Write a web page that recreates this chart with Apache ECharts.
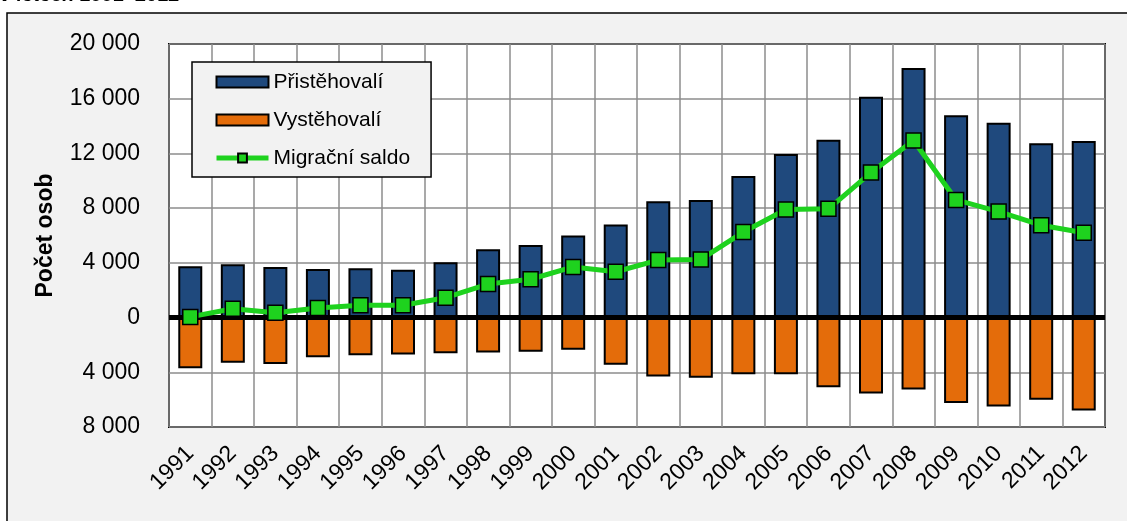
<!DOCTYPE html>
<html>
<head>
<meta charset="utf-8">
<script src="https://cdn.jsdelivr.net/npm/echarts@6/dist/echarts.min.js"></script>
<style>
html,body{margin:0;padding:0;background:#ffffff;}
#c{width:1127px;height:521px;}
</style>
</head>
<body>
<div id="c"></div>
<script>
var years = ['1991','1992','1993','1994','1995','1996','1997','1998','1999','2000','2001','2002','2003','2004','2005','2006','2007','2008','2009','2010','2011','2012'];
var immigrants = [3750, 3900, 3700, 3550, 3600, 3500, 4050, 5000, 5300, 6000, 6800, 8500, 8600, 10350, 11950, 13000, 16150, 18250, 14800, 14250, 12750, 12900];
var emigrants = [-3700, -3300, -3400, -2900, -2750, -2700, -2600, -2550, -2500, -2350, -3450, -4300, -4400, -4150, -4150, -5100, -5550, -5250, -6250, -6500, -6000, -6800];
var saldo = [50, 650, 350, 700, 900, 900, 1450, 2450, 2800, 3700, 3350, 4200, 4250, 6250, 7900, 7950, 10600, 12950, 8600, 7750, 6750, 6200];
var seriesNames = ['Přistěhovalí', 'Vystěhovalí', 'Migrační saldo'];
var yName = 'Počet osob';
var titleText = 'v letech 1991–2012';

var FONT = 'Liberation Sans, Arial, sans-serif';
function fmt(v){
  return String(Math.abs(v)).replace(/\B(?=(\d{3})+(?!\d))/g, ' ');
}

var chart = echarts.init(document.getElementById('c'), null, {renderer:'canvas'});
chart.setOption({
  animation: false,
  backgroundColor: '#ffffff',
  textStyle: {fontFamily: FONT},
  graphic: [
    {type:'rect', z:-10, shape:{x:7, y:13, width:1200, height:600}, style:{fill:'#f2f2f2', stroke:'#000', lineWidth:1.5}},
    {type:'text', left:0, top:-15, z:-5, style:{text:titleText, font:'italic bold 20px Liberation Sans, Arial, sans-serif', fill:'#000'}}
  ],
  grid: {left:169, right:22, top:44, bottom:94, show:true, backgroundColor:'#ffffff', borderColor:'#000', borderWidth:2},
  legend: {
    orient:'vertical', left:192, top:62,
    backgroundColor:'#f2f2f2', borderColor:'#000', borderWidth:1.5, borderRadius:0,
    padding:[9,21,8,22], itemGap:16, itemWidth:52, itemHeight:11,
    textStyle:{fontSize:21, color:'#000', fontFamily:FONT, lineHeight:22},
    data: [
      {name: seriesNames[0], icon:'rect'},
      {name: seriesNames[1], icon:'rect'},
      {name: seriesNames[2], lineStyle:{width:5, color:'#1ed21e'}}
    ]
  },
  xAxis: {
    type:'category', data: years,
    axisLine:{show:false, onZero:false},
    axisTick:{show:false},
    splitLine:{show:true, interval:0, lineStyle:{color:'#8c8c8c', width:1.5}},
    axisLabel:{interval:0, rotate:45, fontSize:23, color:'#000', margin:23, fontFamily:FONT}
  },
  yAxis: {
    type:'value', min:-8000, max:20000, interval:4000,
    name: yName, nameLocation:'middle', nameGap:112,
    nameTextStyle:{fontSize:23, fontWeight:'bold', color:'#000', fontFamily:FONT},
    axisLine:{show:false}, axisTick:{show:false},
    splitLine:{show:true, lineStyle:{color:'#8c8c8c', width:1.5}},
    axisLabel:{fontSize:23, color:'#000', margin:29, formatter: fmt, fontFamily:FONT}
  },
  series: [
    {name: seriesNames[0], type:'bar', data: immigrants, barWidth:24, barGap:'-100%',
     itemStyle:{color:'#1f497d', borderColor:'#000', borderWidth:2},
     markLine:{silent:true, symbol:'none', label:{show:false}, data:[{yAxis:0}], lineStyle:{color:'#000', width:5, type:'solid'}}
    },
    {name: seriesNames[1], type:'bar', data: emigrants, barWidth:24, barGap:'-100%',
     itemStyle:{color:'#e46c0a', borderColor:'#000', borderWidth:2}},
    {name: seriesNames[2], type:'line', data: saldo, z:10,
     symbol:'rect', symbolSize:15,
     lineStyle:{color:'#1ed21e', width:5},
     itemStyle:{color:'#1ed21e', borderColor:'#000', borderWidth:1.5}}
  ]
});
</script>
</body>
</html>
